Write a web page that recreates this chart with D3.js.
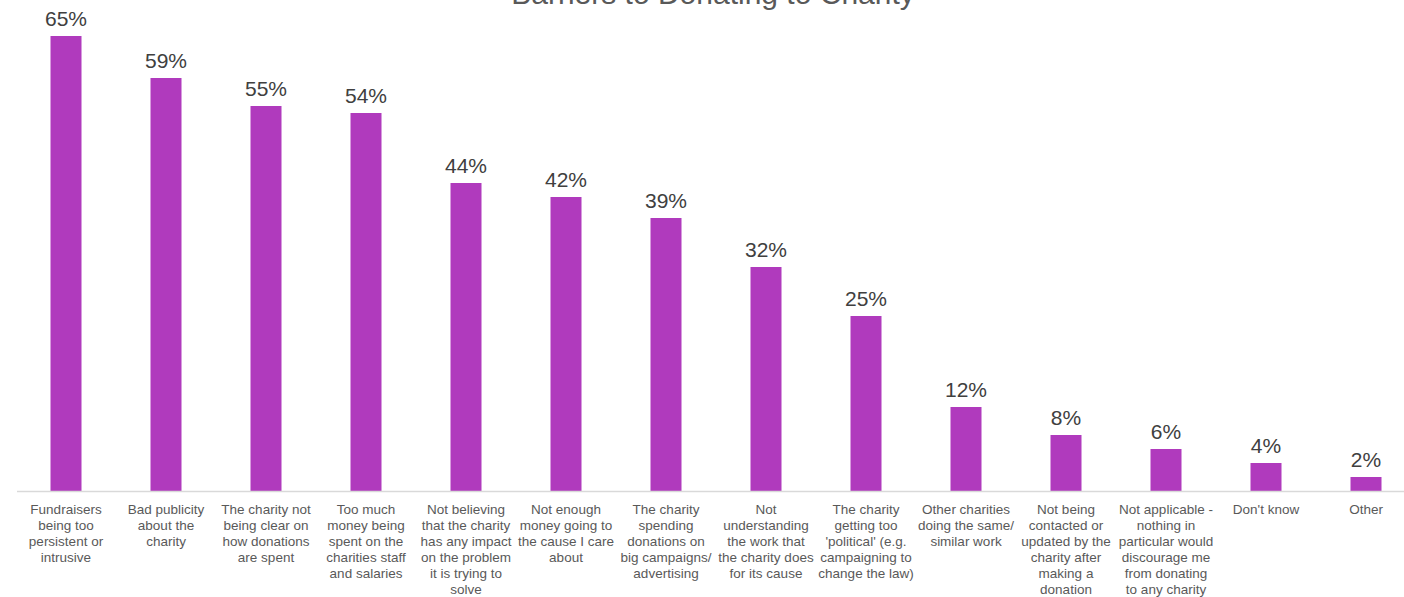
<!DOCTYPE html>
<html>
<head>
<meta charset="utf-8">
<script src="https://cdn.jsdelivr.net/npm/d3@7"></script>
<style>
  body { margin: 0; background: #fff; }
  svg { display: block; font-family: "Liberation Sans", Arial, sans-serif; }
</style>
</head>
<body>
<div class="bar-chart"></div>
<script>
const title = "Barriers to Donating to Charity";

// category labels, line breaks as they wrap in the original
const categories = [
    "Fundraisers\nbeing too\npersistent or\nintrusive",
    "Bad publicity\nabout the\ncharity",
    "The charity not\nbeing clear on\nhow donations\nare spent",
    "Too much\nmoney being\nspent on the\ncharities staff\nand salaries",
    "Not believing\nthat the charity\nhas any impact\non the problem\nit is trying to\nsolve",
    "Not enough\nmoney going to\nthe cause I care\nabout",
    "The charity\nspending\ndonations on\nbig campaigns/\nadvertising",
    "Not\nunderstanding\nthe work that\nthe charity does\nfor its cause",
    "The charity\ngetting too\n'political' (e.g.\ncampaigning to\nchange the law)",
    "Other charities\ndoing the same/\nsimilar work",
    "Not being\ncontacted or\nupdated by the\ncharity after\nmaking a\ndonation",
    "Not applicable -\nnothing in\nparticular would\ndiscourage me\nfrom donating\nto any charity",
    "Don't know",
    "Other"
];
const values = [65, 59, 55, 54, 44, 42, 39, 32, 25, 12, 8, 6, 4, 2];

const width = 1404;
const height = 597;

const svg = d3.select('.bar-chart').append('svg')
    .attr('width', width)
    .attr('height', height)
    .attr('viewBox', [0, 0, width, height]);

const x = d3.scaleBand()
    .domain(d3.range(categories.length))
    .range([16, 1416])
    .paddingInner(0.69)
    .paddingOuter(0.345);

const y = d3.scaleLinear()
    .domain([0, 65])
    .range([491, 36]);

// title (partly above the page edge, as in the original)
svg.append('text')
    .attr('x', 713)
    .attr('y', 4)
    .attr('text-anchor', 'middle')
    .style('font-size', '30px')
    .style('fill', '#595959')
    .text(title);

svg.selectAll('rect')
    .data(values)
    .enter()
    .append('rect')
    .attr('x', (d, i) => x(i))
    .attr('y', d => y(d))
    .attr('width', x.bandwidth())
    .attr('height', d => y(0) - y(d))
    .style('fill', '#B03ABD');

svg.selectAll('.value')
    .data(values)
    .enter()
    .append('text')
    .attr('class', 'value')
    .attr('x', (d, i) => x(i) + x.bandwidth() / 2)
    .attr('y', d => y(d) - 10)
    .attr('text-anchor', 'middle')
    .style('font-size', '21px')
    .style('fill', '#404040')
    .text(d => d + '%');

// baseline
svg.append('line')
    .attr('x1', 17)
    .attr('x2', width)
    .attr('y1', y(0) + 0.5)
    .attr('y2', y(0) + 0.5)
    .style('stroke', '#d9d9d9')
    .style('stroke-width', 1.5);

const labels = svg.selectAll('.cat')
    .data(categories)
    .enter()
    .append('text')
    .attr('class', 'cat')
    .attr('text-anchor', 'middle')
    .style('font-size', '13.5px')
    .style('fill', '#595959')
    .attr('transform', (d, i) => `translate(${x(i) + x.bandwidth() / 2},514)`);

labels.selectAll('tspan')
    .data(d => d.split('\n'))
    .enter()
    .append('tspan')
    .attr('x', 0)
    .attr('y', (d, i) => i * 16)
    .text(d => d);
</script>
</body>
</html>
